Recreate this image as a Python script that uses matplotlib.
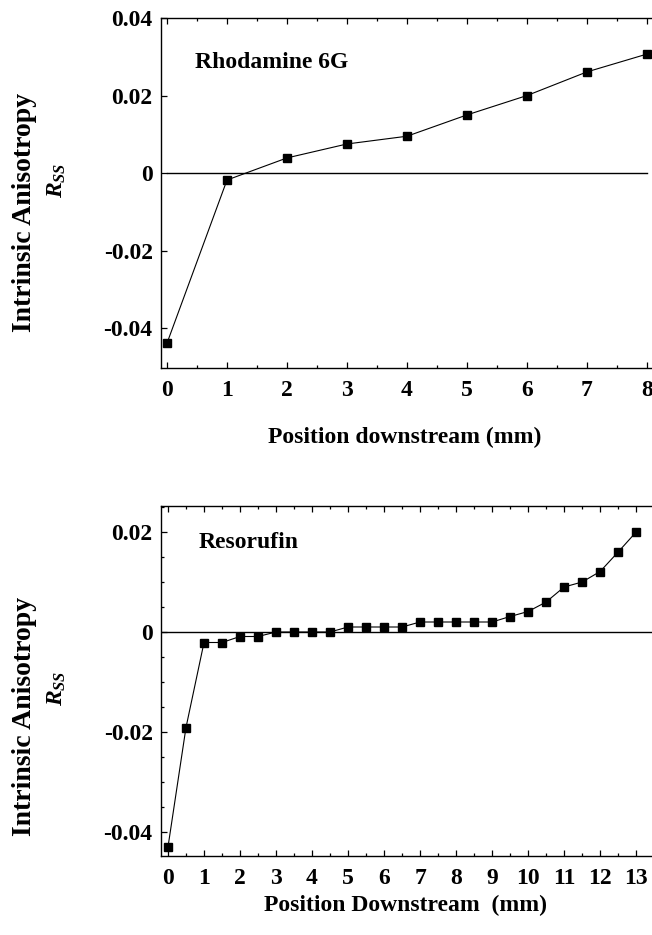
import matplotlib
matplotlib.use("Agg")
import matplotlib.pyplot as plt
from matplotlib.ticker import MultipleLocator

plt.rcParams['font.family'] = ['Liberation Serif', 'DejaVu Serif']
plt.rcParams['font.weight'] = 'bold'
plt.rcParams['mathtext.fontset'] = 'custom'
plt.rcParams['mathtext.rm'] = 'Liberation Serif:bold'
plt.rcParams['mathtext.it'] = 'Liberation Serif:italic:bold'
plt.rcParams['mathtext.bf'] = 'Liberation Serif:bold'

# ---- data ----
rh_x = [0, 1, 2, 3, 4, 5, 6, 7, 8]
rh_y = [-0.0439, -0.0018, 0.0039, 0.0075, 0.0095, 0.0150, 0.0200, 0.0261, 0.0307]

rs_x = [0, 0.5, 1, 1.5, 2, 2.5, 3, 3.5, 4, 4.5, 5, 5.5, 6, 6.5, 7, 7.5, 8, 8.5,
        9, 9.5, 10, 10.5, 11, 11.5, 12, 12.5, 13]
rs_y = [-0.043, -0.0191, -0.0021, -0.0021, -0.0009, -0.0009, 0.0, 0.0, 0.0, 0.0,
        0.001, 0.001, 0.001, 0.001, 0.002, 0.002, 0.002, 0.002, 0.002, 0.0031,
        0.0041, 0.006, 0.009, 0.010, 0.0121, 0.016, 0.020]

top_yticks = [0.04, 0.02, 0, -0.02, -0.04]
top_yticklabels = ['0.04', '0.02', '0', '-0.02', '-0.04']
top_xticks = [0, 1, 2, 3, 4, 5, 6, 7, 8]
bot_yticks = [0.02, 0, -0.02, -0.04]
bot_yticklabels = ['0.02', '0', '-0.02', '-0.04']
bot_xticks = list(range(14))

W, H = 652, 935
fig = plt.figure(figsize=(W / 100, H / 100), dpi=100)

FS = 17

def style(ax, minor_y=None):
    for s in ['top', 'left', 'bottom']:
        ax.spines[s].set_linewidth(1.0)
    ax.spines['right'].set_visible(False)
    ax.xaxis.set_minor_locator(MultipleLocator(0.5))
    if minor_y:
        ax.yaxis.set_minor_locator(MultipleLocator(minor_y))
    ax.tick_params(which='both', direction='in', top=True, right=False,
                   width=0.9, labelsize=FS)
    ax.tick_params(which='major', length=4)
    ax.tick_params(which='minor', length=2.5)
    ax.tick_params(axis='x', pad=9)
    ax.tick_params(axis='y', pad=6)

# ---- top panel ----
ax1 = fig.add_axes([161 / W, 1 - 368 / H, (W - 161) / W, 350 / H])
ax1.plot(rh_x, rh_y, '-', color='black', lw=0.8, marker='s', ms=6,
         mfc='black', mec='black')
ax1.plot([rh_x[0], rh_x[-1]], [0, 0], color='black', lw=1.0)
ax1.set_xlim(-0.1, 8.083)
ax1.set_ylim(-0.0503, 0.04)
ax1.set_xticks(top_xticks)
ax1.set_xticklabels([str(v) for v in top_xticks])
ax1.set_yticks(top_yticks)
ax1.set_yticklabels(top_yticklabels)
style(ax1)
ax1.text(0.47, 0.0284, 'Rhodamine 6G', fontsize=FS, fontweight='bold', va='center', ha='left')

# ---- bottom panel ----
ax2 = fig.add_axes([161 / W, 1 - 856 / H, (W - 161) / W, 350 / H])
ax2.plot(rs_x, rs_y, '-', color='black', lw=0.8, marker='s', ms=6,
         mfc='black', mec='black')
ax2.axhline(0, color='black', lw=1.0)
ax2.set_xlim(-0.194, 13.44)
ax2.set_ylim(-0.0448, 0.0252)
ax2.set_xticks(bot_xticks)
ax2.set_xticklabels([str(v) for v in bot_xticks])
ax2.set_yticks(bot_yticks)
ax2.set_yticklabels(bot_yticklabels)
style(ax2, minor_y=0.005)
ax2.text(0.86, 0.0178, 'Resorufin', fontsize=FS, fontweight='bold', va='center', ha='left')

# ---- labels ----
for yc_int, yc_r in [(212, 180), (716, 688)]:
    fig.text(25 / W, 1 - yc_int / H, 'Intrinsic Anisotropy', rotation=90,
             fontsize=20, fontweight='bold', ha='center', va='center')
    fig.text(57 / W, 1 - yc_r / H, r'$R_{SS}$', rotation=90,
             fontsize=FS, ha='center', va='center')

fig.text(405 / W, 1 - 437 / H, 'Position downstream (mm)', fontsize=FS,
         fontweight='bold', ha='center', va='center')
fig.text(405 / W, 1 - 905 / H, 'Position Downstream  (mm)', fontsize=FS,
         fontweight='bold', ha='center', va='center')

fig.savefig('out.png', dpi=100)
